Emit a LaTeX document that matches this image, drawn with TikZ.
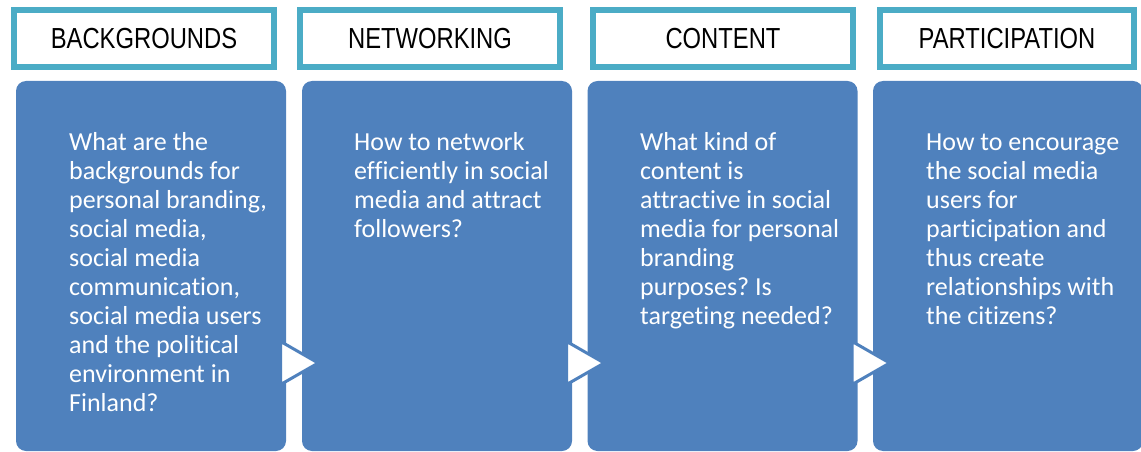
\documentclass[tikz,border=0pt]{standalone}
\usepackage{fontspec}
\setmainfont{Carlito}[RawFeature={-liga;-clig;-dlig}]
\newfontfamily\headfont{Liberation Sans}
\usetikzlibrary{calc}
\definecolor{boxblue}{RGB}{79,129,189}
\definecolor{headaqua}{RGB}{75,172,198}
\frenchspacing

\begin{document}
\begin{tikzpicture}[x=1pt, y=-1pt,
      head/.style = {shape=rectangle, draw=headaqua, line width=6pt,
        minimum width=260pt, minimum height=57pt, inner sep=0pt,
        font=\headfont\fontsize{29}{32}\selectfont},
      stage/.style = {shape=rectangle, rounded corners=10pt, fill=boxblue,
        minimum width=270pt, minimum height=370pt},
      question/.style = {anchor=north west, align=left, inner sep=0pt,
        text=white, font=\fontsize{26}{29}\selectfont},
      pointer/.style = {fill=white, draw=boxblue, line width=3pt}]
  \useasboundingbox (0,0) rectangle (1141,452);
  % headings
  \node[head] (h1) at (144,38.5) {\scalebox{0.82}[1]{BACKGROUNDS}};
  \node[head] (h2) at (430,38.5) {\scalebox{0.82}[1]{NETWORKING}};
  \node[head] (h3) at (723,38.5) {\scalebox{0.82}[1]{CONTENT}};
  \node[head, minimum width=254pt] (h4) at (1007,38.5) {\scalebox{0.82}[1]{PARTICIPATION}};
  % stages
  \node[stage] (b1) at (151,266) {};
  \node[stage] (b2) at (437,266) {};
  \node[stage] (b3) at (722.5,266) {};
  \node[stage] (b4) at (1008,266) {};
  \foreach \b in {b1,b2,b3}
    \draw[pointer] ($(\b.east)+(-5.5,75.5)$) -- ($(\b.east)+(-5.5,118.5)$)
      -- ($(\b.east)+(32,97)$) -- cycle;
  % questions
  \node[question] (q1) at (69,132) {What are the\\backgrounds for\\personal branding,\\social media,\\social media\\communication,\\social media users\\and the political\\environment in\\Finland?};
  \node[question] (q2) at (354,132) {How to network\\efficiently in social\\media and attract\\followers?};
  \node[question] (q3) at (640,132) {What kind of\\content is\\attractive in social\\media for personal\\branding\\purposes? Is\\targeting needed?};
  \node[question] (q4) at (926,134) {How to encourage\\the social media\\users for\\participation and\\thus create\\relationships with\\the citizens?};
\end{tikzpicture}
\end{document}
